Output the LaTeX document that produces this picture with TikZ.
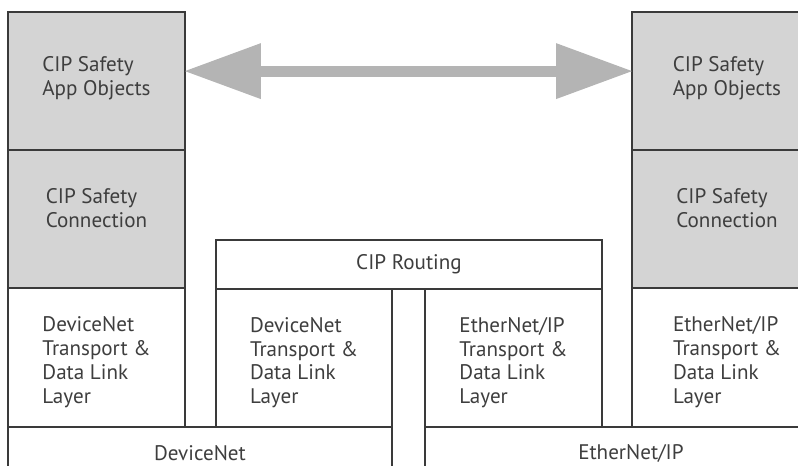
\documentclass[tikz,border=0pt]{standalone}
\usepackage{fontspec}
\setmainfont{PT Sans}
\usetikzlibrary{arrows.meta, positioning}
\definecolor{panel}{HTML}{D4D4D4}
\definecolor{rule}{HTML}{3A3A3A}
\definecolor{ink}{HTML}{3E3E3E}
\definecolor{link}{HTML}{B4B4B4}
\tikzset{
	layer/.style={draw=rule, line width=1.1pt, outer sep=0pt, inner sep=0pt,
		align=left, text=ink, font=\fontsize{12}{13.5}\selectfont,
		minimum width=3.54cm, minimum height=2.765cm},
	stack/.style={layer, text height=1.91cm},
	safety/.style={layer, fill=panel, text depth=#1},
	safety/.default=0.2cm,
	bus/.style={layer, align=center, minimum height=1.04cm},
	arr/.style={{Triangle[length=1.52cm, width=1.12cm, line width=0pt]}-{Triangle[length=1.52cm, width=1.12cm, line width=0pt]},
		line width=0.22cm, link},
}
\begin{document}
\begin{tikzpicture}[x=0.02cm, y=-0.02cm]
	\useasboundingbox (0,0) rectangle (798,466);
	% left stack
	\node[safety, anchor=north west] (lapp) at (8,12) {CIP Safety\\App Objects};
	\node[safety=0.46cm, below=0pt of lapp] (lcon) {CIP Safety\\Connection};
	\node[stack, below=0pt of lcon] (ldn) {DeviceNet\\Transport \&\\Data Link\\Layer};
	% right stack
	\node[safety, anchor=north west, minimum width=3.8cm] (rapp) at (632,12) {CIP Safety\\App Objects};
	\node[safety=0.46cm, below=0pt of rapp, minimum width=3.8cm] (rcon) {CIP Safety\\Connection};
	\node[stack, below=0pt of rcon, minimum width=3.8cm] (reip) {EtherNet/IP\\Transport \&\\Data Link\\Layer};
	% router
	\node[bus, anchor=north west, minimum width=7.72cm, minimum height=0.98cm] (route) at (216,240) {CIP Routing};
	\node[stack, anchor=north west, minimum width=3.52cm] (mdn) at (route.south west) {DeviceNet\\Transport \&\\Data Link\\Layer};
	\node[stack, anchor=north east, minimum width=3.54cm] (meip) at (route.south east) {EtherNet/IP\\Transport \&\\Data Link\\Layer};
	% networks
	\node[bus, anchor=north west, minimum width=7.68cm] (dnet) at (ldn.south west) {DeviceNet};
	\node[bus, anchor=north west, minimum width=8.24cm] (enet) at (meip.south west) {EtherNet/IP};
	\draw[arr] ([yshift=0.2cm]lapp.east) -- ([yshift=0.2cm]rapp.west);
\end{tikzpicture}
\end{document}
